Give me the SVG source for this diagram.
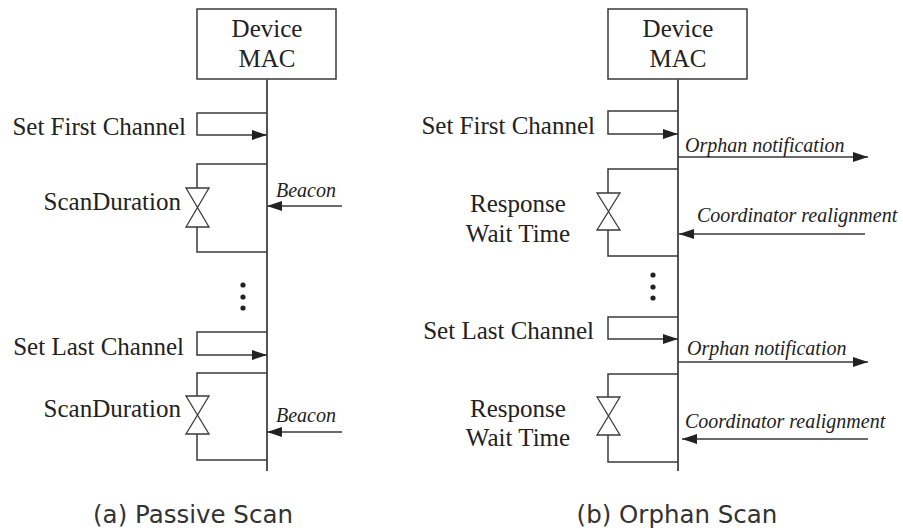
<svg xmlns="http://www.w3.org/2000/svg" width="903" height="531" viewBox="0 0 903 531">
<defs>
<marker id="ah" markerUnits="userSpaceOnUse" markerWidth="15" markerHeight="10" refX="15" refY="5" orient="auto" viewBox="0 0 15 10">
<path d="M0,0 L15,5 L0,10 z" fill="#222"/>
</marker>
<style>
.ln{fill:none;stroke:#3a3a3a;stroke-width:1.5}
.life{fill:none;stroke:#555;stroke-width:2}
.box{fill:#fff;stroke:#3a3a3a;stroke-width:1.5}
.hg{fill:#fff;stroke:#3a3a3a;stroke-width:1.3}
.arr{fill:none;stroke:#3a3a3a;stroke-width:1.5;marker-end:url(#ah)}
.t{font-family:"Liberation Serif","Times New Roman",serif;font-size:25px;fill:#222}
.ti{font-family:"Liberation Serif","Times New Roman",serif;font-size:20px;font-style:italic;fill:#222}
.cap{font-family:"DejaVu Sans",sans-serif;font-size:24.5px;fill:#333;text-anchor:middle}
.dot{fill:#222}
</style>
</defs>
<rect width="903" height="531" fill="#fff"/>

<g id="mac-a">
<rect class="box" x="197" y="9" width="139" height="70"/>
<text class="t" x="267" y="37" text-anchor="middle">Device</text>
<text class="t" x="267" y="67" text-anchor="middle">MAC</text>
</g>
<g id="mac-b">
<rect class="box" x="608" y="9" width="139" height="70"/>
<text class="t" x="678" y="37" text-anchor="middle">Device</text>
<text class="t" x="678" y="67" text-anchor="middle">MAC</text>
</g>

<g id="connectors">
<line class="life" x1="267" y1="79" x2="267" y2="471"/>
<line class="life" x1="678" y1="79" x2="678" y2="471"/>
<!-- panel a -->
<path class="arr" d="M267,113 H197 V135 H267"/>
<path class="ln" d="M267,164 H197 V188 M197,227 V252 H267"/>
<polygon class="hg" points="186,188 209,188 186,227 209,227"/>
<line class="arr" x1="342" y1="206" x2="267" y2="206"/>
<path class="arr" d="M267,332 H197 V355 H267"/>
<path class="ln" d="M267,373 H197 V396 M197,434 V460 H267"/>
<polygon class="hg" points="186,396 209,396 186,434 209,434"/>
<line class="arr" x1="342" y1="432" x2="267" y2="432"/>
<!-- panel b -->
<path class="arr" d="M678,111 H608 V134 H678"/>
<line class="arr" x1="678" y1="157" x2="868" y2="157"/>
<path class="ln" d="M678,169 H608 V193 M608,230 V256 H678"/>
<polygon class="hg" points="597,193 620,193 597,230 620,230"/>
<line class="arr" x1="865" y1="234" x2="679" y2="234"/>
<path class="arr" d="M678,317 H608 V339 H678"/>
<line class="arr" x1="678" y1="362" x2="868" y2="362"/>
<path class="ln" d="M678,374 H608 V397 M608,435 V462 H678"/>
<polygon class="hg" points="597,397 620,397 597,435 620,435"/>
<line class="arr" x1="868" y1="439" x2="682" y2="439"/>
</g>

<g id="dots-a">
<circle class="dot" cx="243" cy="285" r="2.6"/>
<circle class="dot" cx="243" cy="297" r="2.6"/>
<circle class="dot" cx="243" cy="308" r="2.6"/>
</g>
<g id="dots-b">
<circle class="dot" cx="653" cy="275" r="2.6"/>
<circle class="dot" cx="653" cy="287" r="2.6"/>
<circle class="dot" cx="653" cy="298" r="2.6"/>
</g>

<g id="labels-a">
<text class="t" x="186" y="135" text-anchor="end">Set First Channel</text>
<text class="t" x="181" y="210" text-anchor="end">ScanDuration</text>
<text class="ti" x="276" y="197">Beacon</text>
<text class="t" x="184" y="355" text-anchor="end">Set Last Channel</text>
<text class="t" x="181" y="417" text-anchor="end">ScanDuration</text>
<text class="ti" x="276" y="422">Beacon</text>
</g>
<g id="labels-b">
<text class="t" x="595" y="134" text-anchor="end">Set First Channel</text>
<text class="ti" x="685" y="152">Orphan notification</text>
<text class="t" x="518" y="212" text-anchor="middle">Response</text>
<text class="t" x="518" y="242" text-anchor="middle">Wait Time</text>
<text class="ti" x="697" y="222">Coordinator realignment</text>
<text class="t" x="594" y="339" text-anchor="end">Set Last Channel</text>
<text class="ti" x="687" y="355">Orphan notification</text>
<text class="t" x="518" y="417" text-anchor="middle">Response</text>
<text class="t" x="518" y="446" text-anchor="middle">Wait Time</text>
<text class="ti" x="685" y="428">Coordinator realignment</text>
</g>

<g id="captions">
<text class="cap" x="193" y="523">(a) Passive Scan</text>
<text class="cap" x="677" y="523">(b) Orphan Scan</text>
</g>
</svg>
